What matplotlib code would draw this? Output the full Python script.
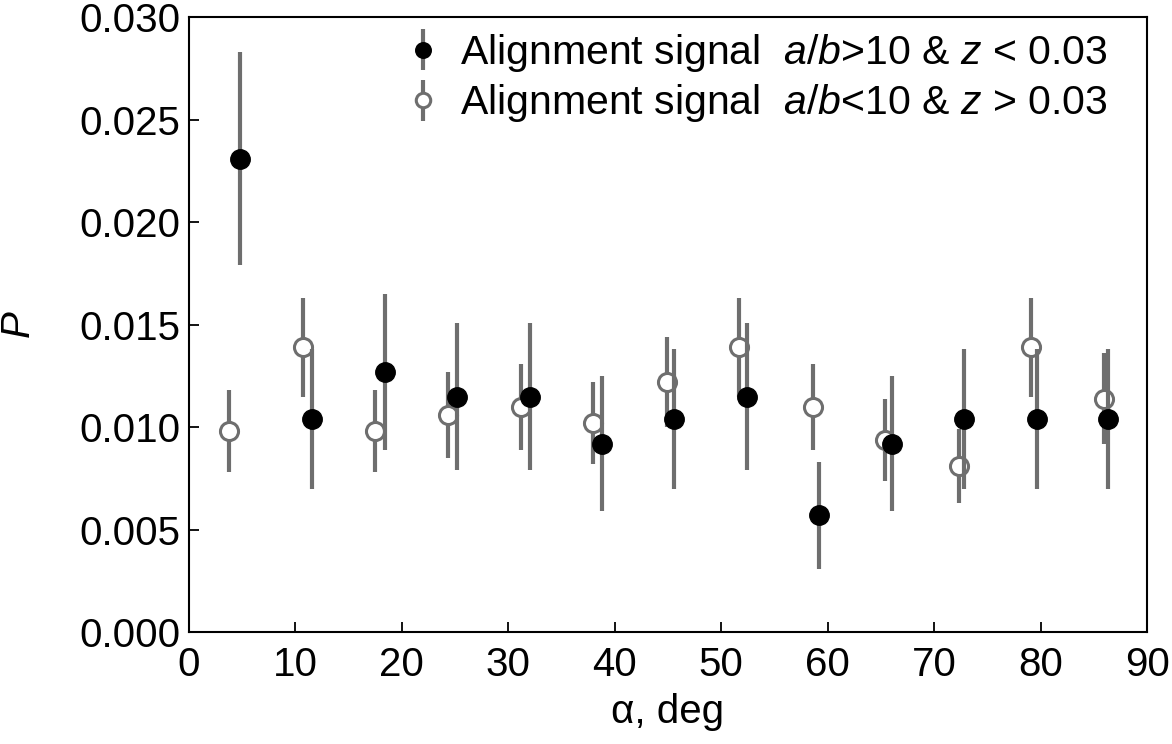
#!/usr/bin/env python3
"""Alignment signal P vs angle alpha, two galaxy subsamples."""

import matplotlib
matplotlib.use("Agg")
import matplotlib.pyplot as plt

# filled: a/b > 10 & z < 0.03
ALPHA_HI = [4.8, 11.6, 18.4, 25.2, 32.0, 38.8, 45.6, 52.4, 59.2, 66.0, 72.8, 79.6, 86.3]
P_HI = [0.0231, 0.0104, 0.0127, 0.0115, 0.0115, 0.0092, 0.0104, 0.0115, 0.0057, 0.0092,
        0.0104, 0.0104, 0.0104]
ERR_HI = [0.0052, 0.0034, 0.0038, 0.0036, 0.0036, 0.0033, 0.0034, 0.0036, 0.0026, 0.0033,
          0.0034, 0.0034, 0.0034]

# open: a/b < 10 & z > 0.03
ALPHA_LO = [3.8, 10.7, 17.5, 24.3, 31.2, 38.0, 44.9, 51.7, 58.6, 65.4, 72.3, 79.1, 85.9]
P_LO = [0.0098, 0.0139, 0.0098, 0.0106, 0.0110, 0.0102, 0.0122, 0.0139, 0.0110, 0.0094,
        0.0081, 0.0139, 0.0114]
ERR_LO = [0.0020, 0.0024, 0.0020, 0.0021, 0.0021, 0.0020, 0.0022, 0.0024, 0.0021, 0.0020,
          0.0018, 0.0024, 0.0022]

LABEL_HI = r"Alignment signal  $a/b$>10 & $z$ < 0.03"
LABEL_LO = r"Alignment signal  $a/b$<10 & $z$ > 0.03"

plt.rcParams["font.family"] = ["Liberation Sans", "DejaVu Sans"]
plt.rcParams["mathtext.fontset"] = "custom"
plt.rcParams["mathtext.rm"] = "Liberation Sans"
plt.rcParams["mathtext.it"] = "Liberation Sans:italic"

ERR_COLOR = "#6e6e6e"

fig = plt.figure(figsize=(11.72, 7.44), dpi=100)
ax = fig.add_axes([0.161, 0.150, 0.818, 0.827])

ax.errorbar(ALPHA_LO, P_LO, yerr=ERR_LO, fmt="o", ms=13, mfc="white", mec=ERR_COLOR,
            mew=2.2, ecolor=ERR_COLOR, elinewidth=3, capsize=0, label=LABEL_LO, zorder=3)
ax.errorbar(ALPHA_HI, P_HI, yerr=ERR_HI, fmt="o", ms=14, mfc="black", mec="black",
            ecolor=ERR_COLOR, elinewidth=3, capsize=0, label=LABEL_HI, zorder=4)

ax.set_xlim(0, 90)
ax.set_ylim(0, 0.030)
ax.set_xticks(range(0, 91, 10))
ax.set_yticks([0.000, 0.005, 0.010, 0.015, 0.020, 0.025, 0.030])
ax.set_yticklabels([f"{v:.3f}" for v in ax.get_yticks()])
ax.tick_params(direction="in", length=7, width=1.3, labelsize=29)
ax.tick_params(axis="y", pad=6)
ax.tick_params(axis="x", pad=10)
for sp in ax.spines.values():
    sp.set_linewidth(1.5)

ax.set_xlabel("α, deg", fontsize=29, labelpad=6)
ax.set_ylabel(r"$P$", fontsize=29, labelpad=30)

handles, labels = ax.get_legend_handles_labels()
ax.legend(handles[::-1], labels[::-1], loc="upper right", bbox_to_anchor=(0.982, 1.012),
          frameon=False, fontsize=29.5, handlelength=0.6, handletextpad=0.6,
          borderaxespad=0.15, labelspacing=0.2, markerscale=0.8)

fig.savefig("out.png", dpi=100)
